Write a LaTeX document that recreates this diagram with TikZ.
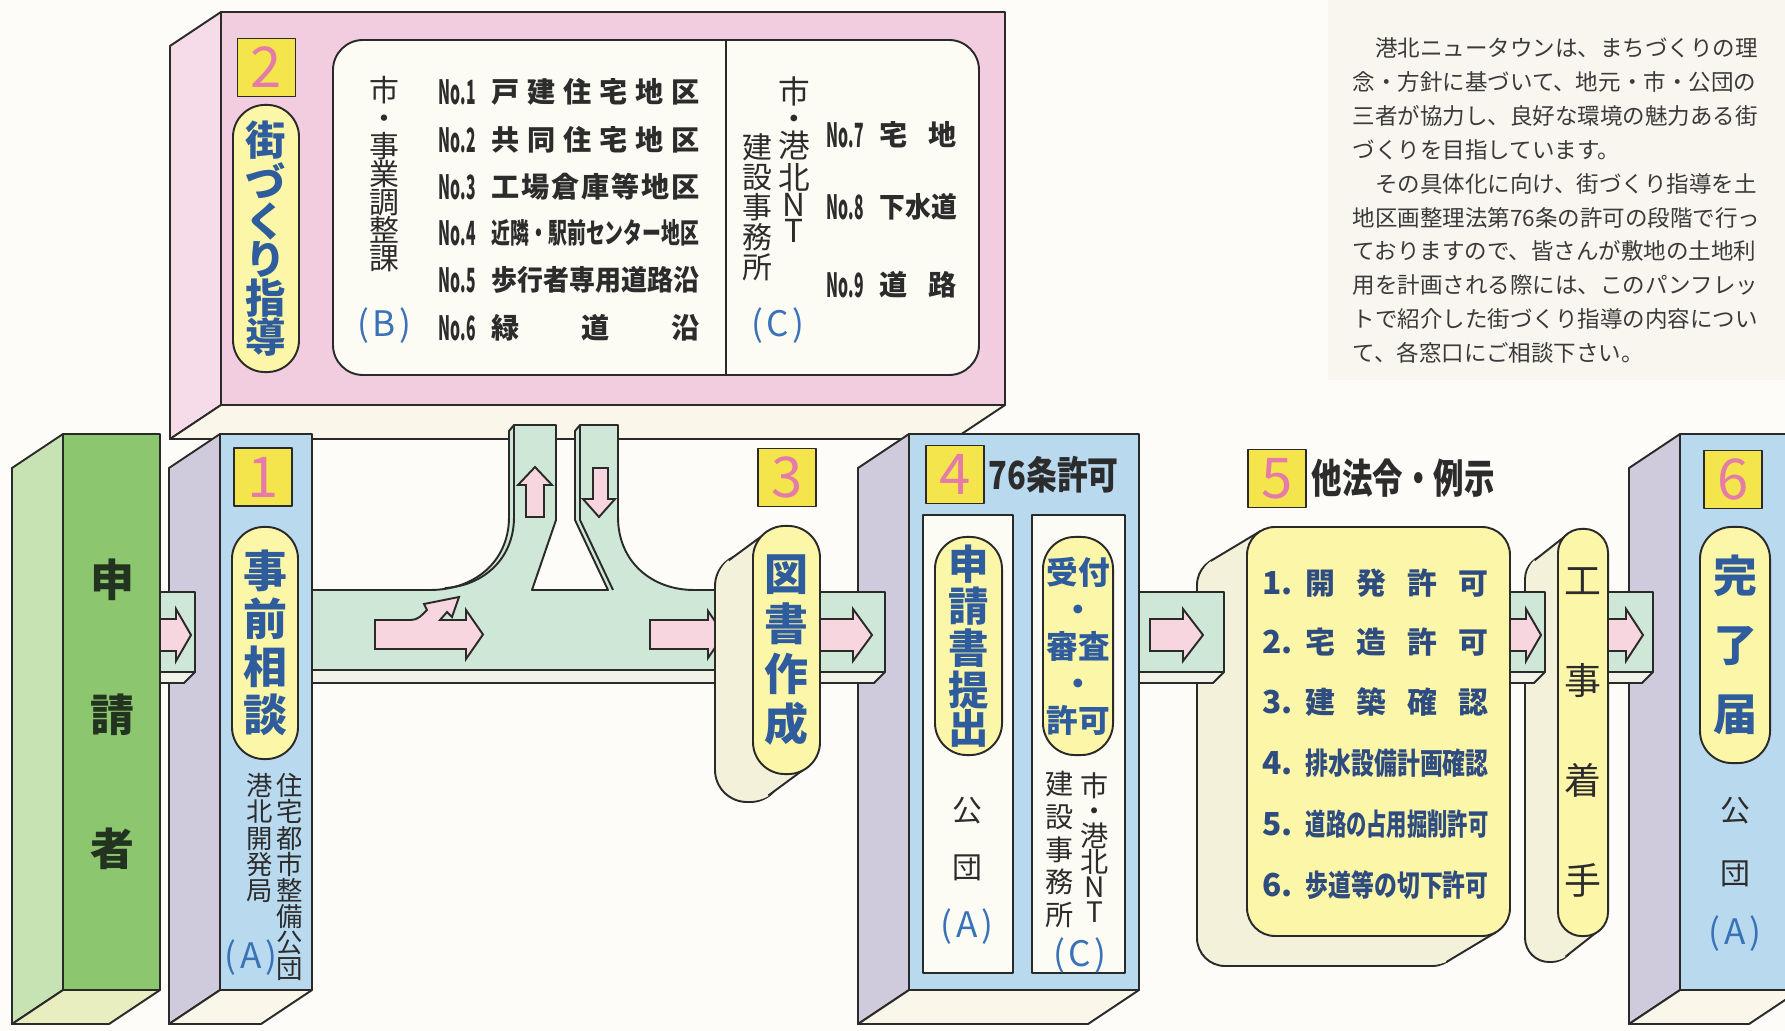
\documentclass[tikz,border=0pt]{standalone}
\usepackage{fontspec}
\usepackage{graphicx}
\setmainfont{Noto Sans CJK JP}
\usetikzlibrary{calc,fit,positioning}

\definecolor{bgc}{HTML}{FDFCF8}
\definecolor{parac}{HTML}{F9F6F0}
\definecolor{paratxt}{HTML}{3A3A3A}
\definecolor{pinkf}{HTML}{F2CDDF}
\definecolor{pinks}{HTML}{F6DBE8}
\definecolor{creamb}{HTML}{FAF7EA}
\definecolor{panelw}{HTML}{FCFBF4}
\definecolor{bluef}{HTML}{B9D9EF}
\definecolor{grays}{HTML}{D0CBDC}
\definecolor{greenf}{HTML}{8CC66F}
\definecolor{greens}{HTML}{C7E3B4}
\definecolor{greenb}{HTML}{E9EEC0}
\definecolor{pilly}{HTML}{FBF6A8}
\definecolor{backc}{HTML}{F3F1D9}
\definecolor{tabc}{HTML}{CEE7D7}
\definecolor{tabb}{HTML}{F1F3E8}
\definecolor{arrowp}{HTML}{F8D6DF}
\definecolor{numy}{HTML}{F3E54B}
\definecolor{nump}{HTML}{E47BA8}
\definecolor{txtb}{HTML}{2E5C9C}
\definecolor{txtl}{HTML}{2E4C80}
\definecolor{abcb}{HTML}{3A72B8}
\definecolor{linec}{HTML}{2A2A2A}
\definecolor{txtd}{HTML}{2C2C2C}
\definecolor{appltxt}{HTML}{22331F}

\begin{document}
\begin{tikzpicture}[x=0.01cm, y=-0.01cm,
  ln/.style={draw=linec, line width=0.55pt, line join=round},
  slabf/.style={ln, inner sep=0pt, outer sep=0pt},
  pill/.style={ln, fill=pilly, rounded corners=0.32cm, inner sep=0pt, align=center, text=txtb},
  numbox/.style={ln, fill=numy, minimum size=0.58cm, inner sep=0pt, text=nump, font=\fontsize{16}{16}\selectfont},
  vtxt/.style={align=center, inner sep=0pt, text=txtd},
  abc/.style={inner sep=0pt, text=abcb, font=\fontsize{10}{10}\selectfont},
  nolab/.style={anchor=west, inner sep=0pt, text=txtd, font=\bfseries\fontsize{9.5}{9.5}\selectfont},
  rowtxt/.style={anchor=west, inner sep=0pt, text=txtd, font=\bfseries\fontsize{8}{8}\selectfont},
  listno/.style={anchor=west, inner sep=0pt, text=txtl, font=\bfseries\fontsize{9}{9}\selectfont},
  listtxt/.style={anchor=west, inner sep=0pt, text=txtl, font=\bfseries\fontsize{8.5}{8.5}\selectfont},
  tab/.style={ln, fill=tabc},
  tabbot/.style={ln, fill=tabb},
  parr/.style={ln, fill=arrowp, line join=miter}]

\useasboundingbox (0,0) rectangle (1785,1031);
\clip (0,0) rectangle (1785,1031);
\fill[bgc] (0,0) rectangle (1785,1031);
\fill[parac] (1328,0) rectangle (1785,380);

% explanation
\node[anchor=north west, inner sep=0pt, align=left, text=paratxt, font=\fontsize{6.4}{9.64}\selectfont] (para) at (1352,37) {%
　港北ニュータウンは、まちづくりの理\\
念・方針に基づいて、地元・市・公団の\\
三者が協力し、良好な環境の魅力ある街\\
づくりを目指しています。\\
　その具体化に向け、街づくり指導を土\\
地区画整理法第76条の許可の段階で行っ\\
ておりますので、皆さんが敷地の土地利\\
用を計画される際には、このパンフレッ\\
トで紹介した街づくり指導の内容につい\\
て、各窓口にご相談下さい。};

% step 2 block
\filldraw[ln, fill=pinks] (221,12) -- (170,46) -- (170,439) -- (221,405) -- cycle;
\filldraw[ln, fill=creamb] (221,405) -- (1005,405) -- (954,439) -- (170,439) -- cycle;
\node[slabf, fill=pinkf, fit={(221,12) (1005,405)}] (guide) {};
\node[numbox] (n2) at (266.5,67.5) {2};
\node[pill, minimum width=0.66cm, minimum height=2.67cm, font=\bfseries\fontsize{11.5}{11}\selectfont] (p2) at (266,238.5) {街\\づ\\く\\り\\指\\導};
\node[ln, fill=panelw, rounded corners=0.3cm, inner sep=0pt, fit={(333,40) (979,375)}] (panel) {};
\draw[ln] (726,40) -- (726,375);
\node[vtxt, font=\fontsize{8.5}{7.95}\selectfont] (cityB) at (384,174) {市\\・\\事\\業\\調\\整\\課};
\node[abc] (B) at (384,326) {(\kern1pt B\kern1pt)};
\foreach \n/\y in {1/92,2/140,3/187,4/233,5/280,6/328}
  \node[nolab] (no\n) at (438,\y) {\resizebox{10.5pt}{\height}{No.\n}};
\node[rowtxt] (r1) at (491,92) {\makebox[59pt]{戸\hfill 建\hfill 住\hfill 宅\hfill 地\hfill 区}};
\node[rowtxt] (r2) at (491,140) {\makebox[59pt]{共\hfill 同\hfill 住\hfill 宅\hfill 地\hfill 区}};
\node[rowtxt] (r3) at (491,187) {\makebox[59pt]{工\hfill 場\hfill 倉\hfill 庫\hfill 等\hfill 地\hfill 区}};
\node[rowtxt] (r4) at (491,233) {\resizebox{59pt}{\height}{近隣・駅前センター地区}};
\node[rowtxt] (r5) at (491,280) {\resizebox{59pt}{\height}{歩行者専用道路沿}};
\node[rowtxt] (r6) at (491,328) {\makebox[59pt]{緑\hfill 道\hfill 沿}};
\node[vtxt, font=\fontsize{9}{7.6}\selectfont] (cityC) at (794,160) {市\\・\\港\\北\\N\\T};
\node[vtxt, font=\fontsize{8.5}{8.5}\selectfont] (ofcC) at (757,207) {建\\設\\事\\務\\所};
\node[abc] (C) at (778,326) {(\kern1pt C\kern1pt)};
\foreach \n/\y in {7/135,8/207,9/285}
  \node[nolab] (no\n) at (826,\y) {\resizebox{10.5pt}{\height}{No.\n}};
\node[rowtxt] (r7) at (879,135) {\makebox[22pt]{宅\hfill 地}};
\node[rowtxt] (r8) at (879,207) {\resizebox{22pt}{\height}{下水道}};
\node[rowtxt] (r9) at (879,285) {\makebox[22pt]{道\hfill 路}};

% flow band with branch to step 2
\filldraw[tabbot] (312,670) -- (734,670) -- (723,683) -- (312,683) -- cycle;
\filldraw[ln, fill=tabc] (312,670) -- (312,590) -- (430,590) .. controls (474,590) and (509,562) .. (509,517) -- (509,431) -- (514,425) -- (556,425) -- (556,520) -- (532,590) -- (608,590) -- (575,520) -- (575,431) -- (580,425) -- (618,425) -- (618,517) .. controls (618,562) and (652,590) .. (694,590) -- (734,590) -- (734,670) -- cycle;
\draw[ln] (445,588) .. controls (482,586) and (514,560) .. (514,517) -- (514,425);
\draw[ln] (580,425) -- (580,520) -- (613,590);
\filldraw[parr] (375,620) -- (411,620) .. controls (418,620) and (422,615) .. (427,610) -- (424,604) -- (459,597) -- (452,617) -- (447,612) -- (440,620) -- (466,620) -- (466,610) -- (483,634.5) -- (466,659) -- (466,649) -- (375,649) -- cycle;
\filldraw[parr] (650,620) -- (708,620) -- (708,611) -- (724,634.5) -- (708,658) -- (708,649) -- (650,649) -- cycle;
\filldraw[parr] (526,517) -- (526,485) -- (518,485) -- (535,467) -- (552,485) -- (544,485) -- (544,517) -- cycle;
\filldraw[parr] (593,468) -- (608,468) -- (608,499) -- (615,499) -- (599,517) -- (583,499) -- (593,499) -- cycle;

% columns
\foreach \xa/\xb/\fc/\sc/\bc/\nm in {63/160/greenf/greens/greenb/appl, 220/312/bluef/grays/creamb/box1, 909/1139/bluef/grays/creamb/box4, 1680/1800/bluef/grays/creamb/box6}{
  \filldraw[ln, fill=\sc] (\xa,434) -- (\xa-51,468) -- (\xa-51,1024) -- (\xa,990) -- cycle;
  \filldraw[ln, fill=\bc] (\xa,990) -- (\xb,990) -- (\xb-51,1024) -- (\xa-51,1024) -- cycle;
  \node[slabf, fill=\fc, fit={(\xa,434) (\xb,990)}] (\nm) {};
}
\node[vtxt, text=appltxt, font=\bfseries\fontsize{12.5}{38.3}\selectfont] (applt) at (112,714.5) {申\\請\\者};

% step 1
\node[numbox] (n1) at (263,477) {1};
\node[pill, minimum width=0.66cm, minimum height=2.32cm, font=\bfseries\fontsize{12.5}{13.6}\selectfont] (p1) at (265,643) {事\\前\\相\\談};
\node[vtxt, font=\fontsize{7.5}{7.4}\selectfont] (kodan1) at (290,877) {住\\宅\\都\\市\\整\\備\\公\\団};
\node[vtxt, font=\fontsize{7.5}{7.4}\selectfont] (kohoku1) at (260,838) {港\\北\\開\\発\\局};
\node[abc] (A1) at (251,958) {(\kern1pt A\kern1pt)};

% step 4
\node[numbox] (n4) at (955,474.5) {4};
\node[right=0.03cm of n4, inner sep=0pt, text=txtd, font=\bfseries\fontsize{11}{11}\selectfont] (art76) {\resizebox{37pt}{\height}{76条許可}};
\node[ln, fill=panelw, inner sep=0pt, fit={(923,515) (1013,973)}] (pan4a) {};
\node[ln, fill=panelw, inner sep=0pt, fit={(1032,515) (1125,973)}] (pan4b) {};
\node[pill, minimum width=0.67cm, minimum height=2.18cm, font=\bfseries\fontsize{11.5}{10.8}\selectfont] (p4a) at (968.5,646) {申\\請\\書\\提\\出};
\node[pill, minimum width=0.70cm, minimum height=2.18cm, font=\bfseries\fontsize{9}{10.5}\selectfont] (p4b) at (1078,646) {受付\\・\\審査\\・\\許可};
\node[vtxt, font=\fontsize{8.5}{16.4}\selectfont] (kodan4) at (967,839) {公\\団};
\node[abc] (A4) at (967,927) {(\kern1pt A\kern1pt)};
\node[vtxt, font=\fontsize{8}{7.2}\selectfont] (city4) at (1095,847.5) {市\\・\\港\\北\\N\\T};
\node[vtxt, font=\fontsize{8}{9.3}\selectfont] (ofc4) at (1060,849.5) {建\\設\\事\\務\\所};
\node[abc] (C4) at (1080,956) {(\kern1pt C\kern1pt)};

% step 6
\node[numbox] (n6) at (1733,479.5) {6};
\node[pill, minimum width=0.70cm, minimum height=2.36cm, font=\bfseries\fontsize{12.5}{19.6}\selectfont] (p6) at (1735,645) {完\\了\\届};
\node[vtxt, font=\fontsize{8.5}{18}\selectfont] (kodan6) at (1735,842) {公\\団};
\node[abc] (A6) at (1735,934) {(\kern1pt A\kern1pt)};

% step 5
\node[numbox] (n5) at (1277,478.5) {5};
\node[right=0.04cm of n5, inner sep=0pt, text=txtd, font=\bfseries\fontsize{11.5}{11.5}\selectfont] (law5) {\resizebox{52pt}{\height}{他法令・例示}};
\filldraw[ln, fill=backc, rounded corners=0.28cm] (1197,557) rectangle (1460,966);
\foreach \t in {0.05,0.1,...,1}
  \fill[backc, rounded corners=0.28cm] (1197+50*\t,557-30*\t) rectangle (1460+50*\t,966-30*\t);
\draw[ln] (1260.6,531) -- (1210.6,561) (1496.4,932) -- (1446.4,962);
\node[ln, fill=pilly, rounded corners=0.28cm, inner sep=0pt, fit={(1247,527) (1510,936)}] (b5) {};
\foreach \i/\y in {1/583,2/642,3/702,4/763,5/824,6/885}
  \node[listno] (k\i) at (1262,\y) {\i.};
\node[listtxt] (i1) at (1305,583) {\makebox[52pt]{開\hfill 発\hfill 許\hfill 可}};
\node[listtxt] (i2) at (1305,642) {\makebox[52pt]{宅\hfill 造\hfill 許\hfill 可}};
\node[listtxt] (i3) at (1305,702) {\makebox[52pt]{建\hfill 築\hfill 確\hfill 認}};
\node[listtxt] (i4) at (1305,763) {\resizebox{52pt}{\height}{排水設備計画確認}};
\node[listtxt] (i5) at (1305,824) {\resizebox{52pt}{\height}{道路の占用掘削許可}};
\node[listtxt] (i6) at (1305,885) {\resizebox{52pt}{\height}{歩道等の切下許可}};

% start of works
\filldraw[ln, fill=backc, rounded corners=0.24cm] (1525,555) rectangle (1575,962);
\foreach \t in {0.05,0.1,...,1}
  \fill[backc, rounded corners=0.24cm] (1525+33*\t,555-26*\t) rectangle (1575+33*\t,962-26*\t);
\draw[ln] (1567.5,534.3) -- (1534.5,560.3) (1598.5,930.7) -- (1565.5,956.7);
\node[pill, rounded corners=0.24cm, minimum width=0.50cm, minimum height=4.07cm, text=txtd, font=\fontsize{10.5}{28.35}\selectfont] (pk) at (1583,732.5) {工\\事\\着\\手};

% tabs between steps
\foreach \ta/\tb in {160/195, 800/885, 1139/1224, 1510/1545, 1608/1653}{
  \filldraw[tabbot] (\ta,672) -- (\tb,672) -- (\tb-11,683) -- (\ta,683) -- cycle;
  \filldraw[tab] (\ta,592) rectangle (\tb,672);
}
\foreach \xs/\xh/\xt in {160/176/191, 800/853/872, 1150/1183/1203, 1510/1526/1541, 1608/1626/1643}
  \filldraw[parr] (\xs,619) -- (\xh,619) -- (\xh,609) -- (\xt,635) -- (\xh,661) -- (\xh,651) -- (\xs,651) -- cycle;

% step 3
\node[numbox] (n3) at (787,477.5) {3};
\filldraw[ln, fill=backc, rounded corners=0.32cm] (715,554) rectangle (782,802);
\foreach \t in {0.05,0.1,...,1}
  \fill[backc, rounded corners=0.32cm] (715+38*\t,554-28*\t) rectangle (782+38*\t,802-28*\t);
\draw[ln] (766.6,532.5) -- (728.6,560.5) (806.4,767.5) -- (768.4,795.5);
\node[pill, minimum width=0.67cm, minimum height=2.48cm, font=\bfseries\fontsize{12.5}{14.2}\selectfont] (p3) at (786.5,650) {図\\書\\作\\成};
\end{tikzpicture}
\end{document}
